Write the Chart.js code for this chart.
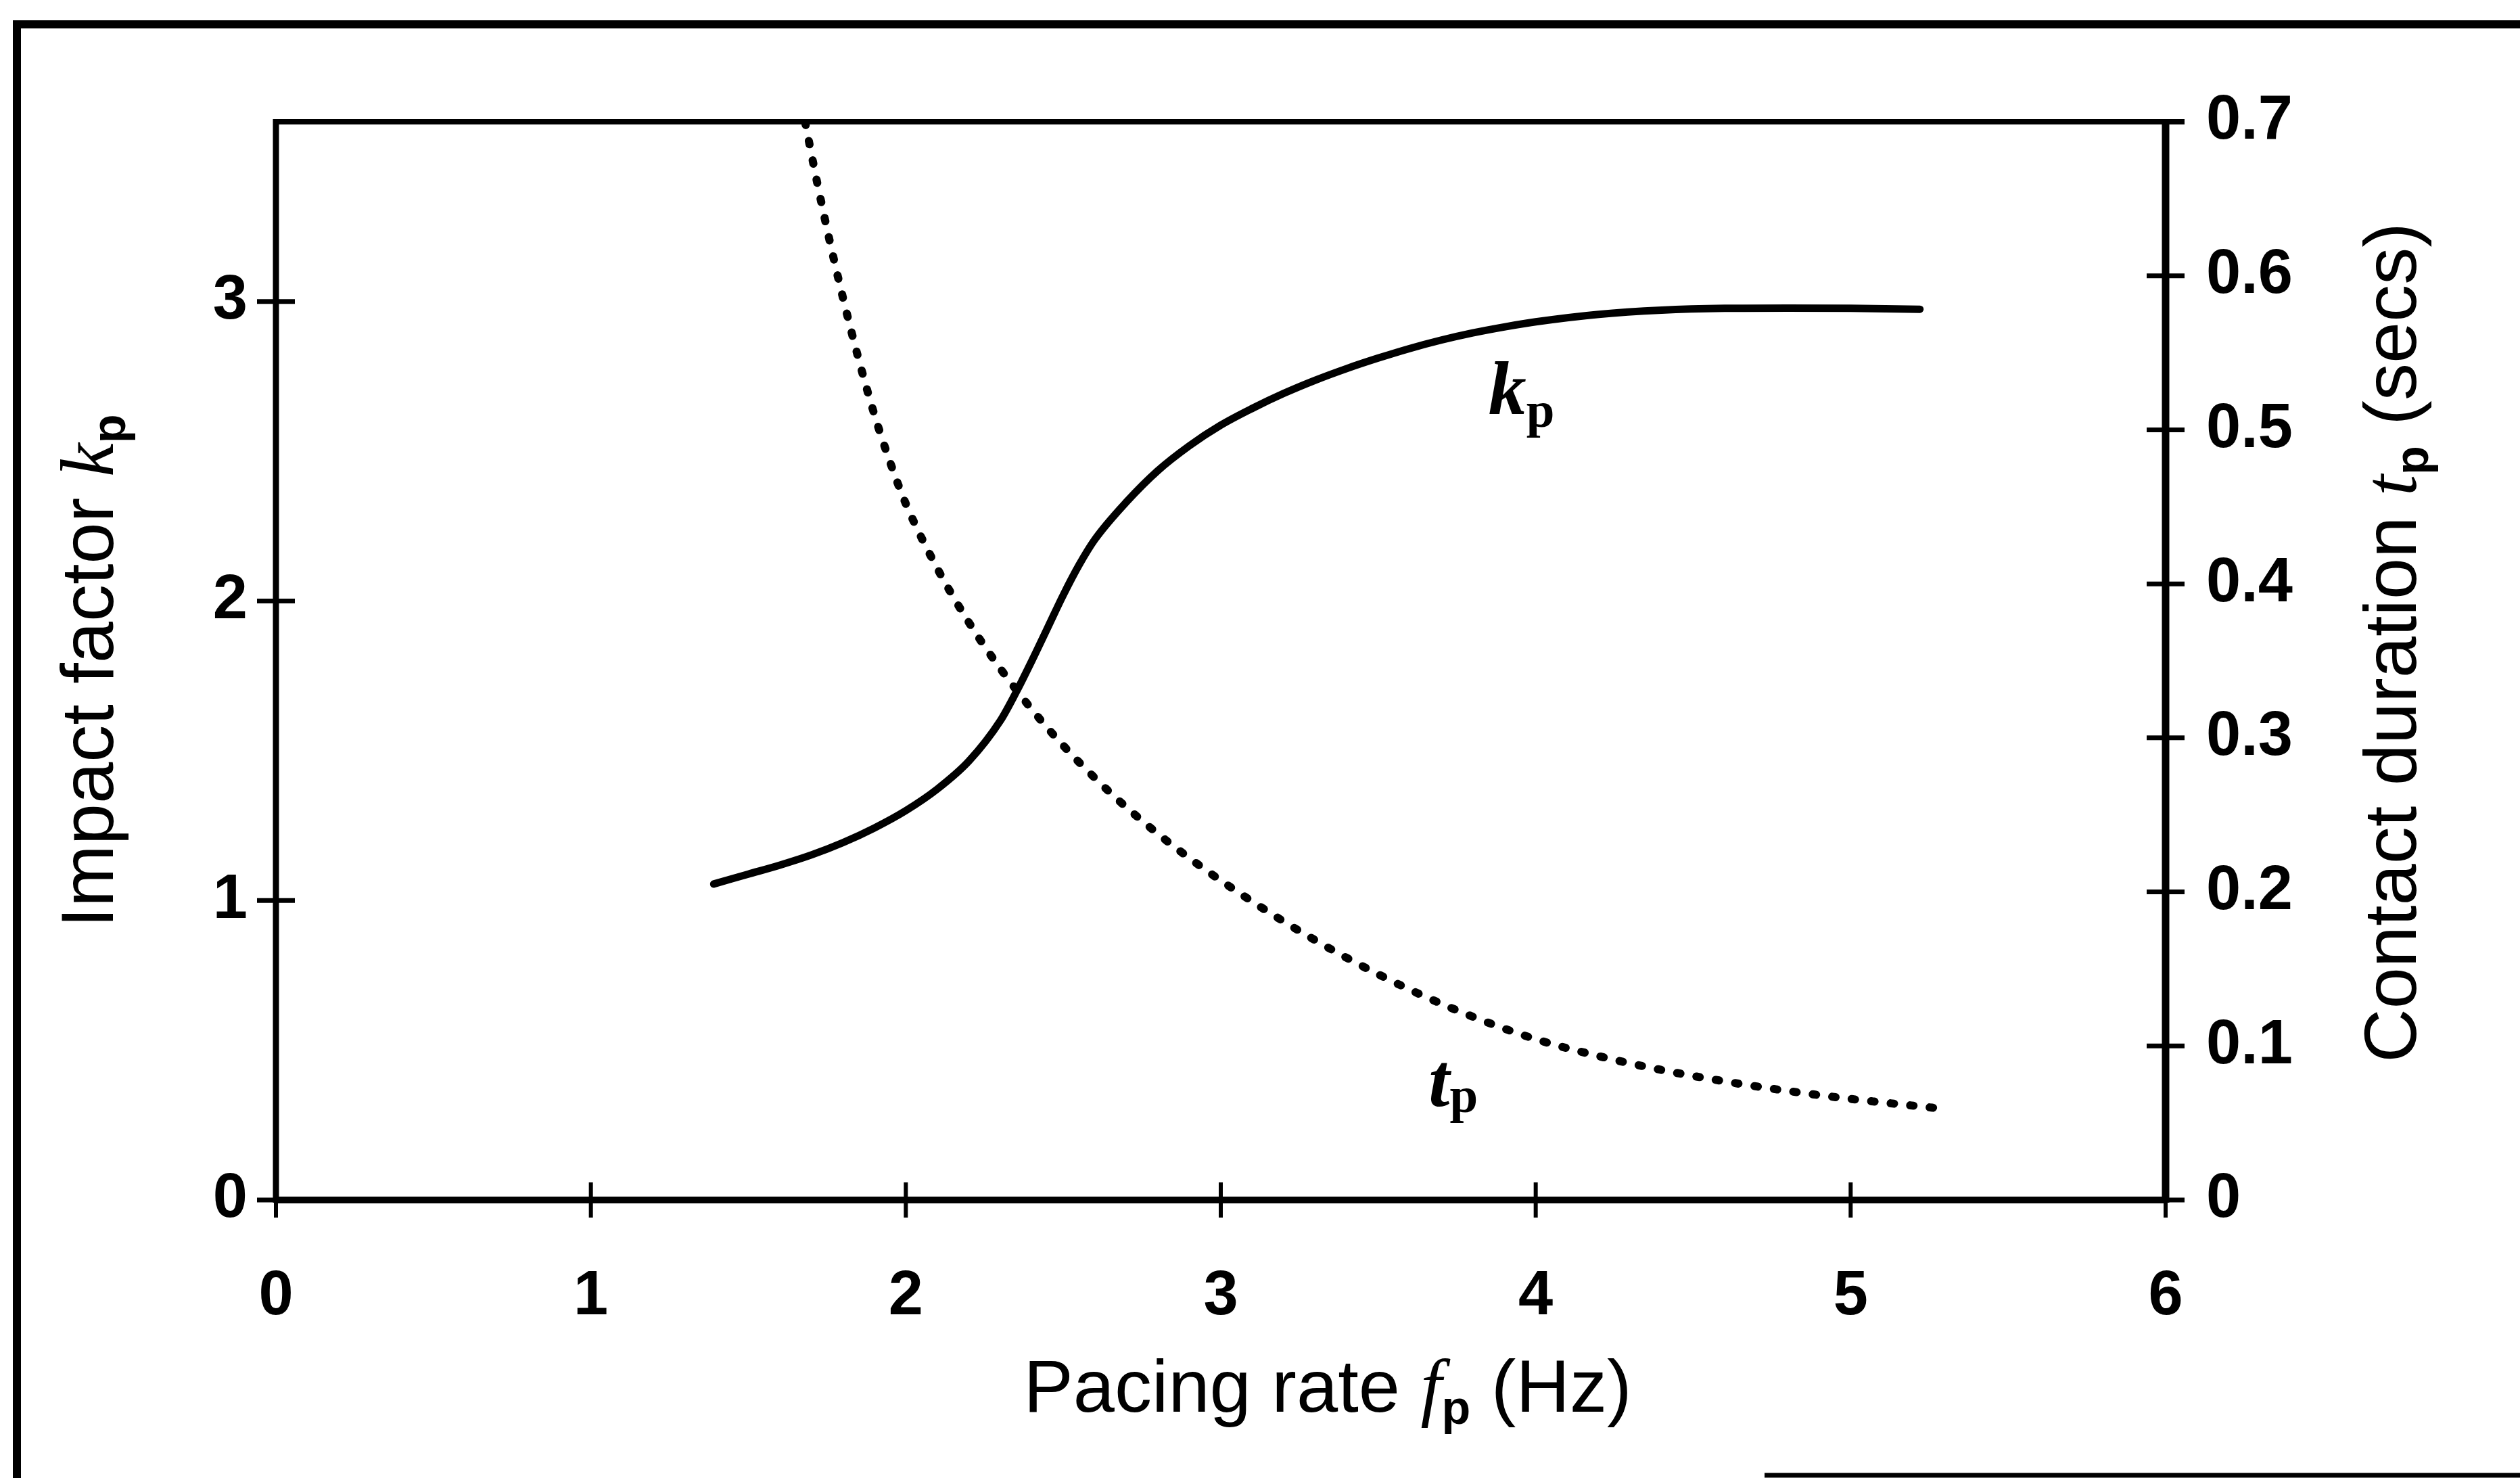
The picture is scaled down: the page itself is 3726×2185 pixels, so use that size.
<!DOCTYPE html>
<html>
<head>
<meta charset="utf-8">
<title>Impact factor and contact duration vs pacing rate</title>
<script src="https://cdn.jsdelivr.net/npm/chart.js@4.4.1/dist/chart.umd.min.js"></script>
<style>
  html, body { margin: 0; padding: 0; background: #fff; }
  #wrap { width: 3726px; height: 2185px; position: relative; }
  canvas { display: block; }
</style>
</head>
<body>
<div id="wrap"><canvas id="chart" width="3726" height="2185"></canvas></div>
<script>
// Impact factor k_p against pacing rate f_p (Hz)
const kpRate  = [1.39, 1.50, 1.60, 1.70, 1.80, 1.90, 2.00, 2.10, 2.20, 2.30, 2.35, 2.40, 2.45, 2.50, 2.55,
                 2.60, 2.70, 2.80, 2.90, 3.00, 3.10, 3.20, 3.30, 3.40, 3.50, 3.60, 3.70, 3.80, 3.90, 4.00,
                 4.20, 4.40, 4.60, 4.80, 5.00, 5.22];
const kpValue = [1.055, 1.088, 1.118, 1.152, 1.193, 1.242, 1.300, 1.372, 1.465, 1.600, 1.695, 1.800, 1.910, 2.020, 2.120,
                 2.205, 2.330, 2.435, 2.518, 2.587, 2.643, 2.693, 2.737, 2.776, 2.811, 2.843, 2.871, 2.895, 2.915, 2.932,
                 2.957, 2.971, 2.977, 2.978, 2.977, 2.974];

// Contact duration t_p (secs) against pacing rate f_p (Hz)
const tpRate  = [1.68, 1.72, 1.76, 1.80, 1.85, 1.90, 1.95, 2.00, 2.10, 2.20, 2.30, 2.40, 2.50, 2.60, 2.70,
                 2.80, 2.90, 3.00, 3.20, 3.40, 3.60, 3.80, 4.00, 4.20, 4.40, 4.60, 4.80, 5.00, 5.27];
const tpValue = [0.700, 0.659, 0.621, 0.586, 0.546, 0.510, 0.479, 0.452, 0.410, 0.375, 0.345, 0.3185, 0.295, 0.274, 0.255,
                 0.2378, 0.222, 0.2074, 0.1808, 0.1572, 0.1366, 0.119, 0.1044, 0.0934, 0.0844, 0.077, 0.0708, 0.0656, 0.0597];

// Axis tick values
const xTicks = [0, 1, 2, 3, 4, 5, 6];
const kTicks = [0, 1, 2, 3];
const tTicks = [0, 0.1, 0.2, 0.3, 0.4, 0.5, 0.6, 0.7];

const SANS  = '"Liberation Sans", Arial, sans-serif';
const SERIF = '"Liberation Serif", "Times New Roman", serif';
const tickFont = { family: SANS, size: 92, weight: 'bold' };

// Draws a run of differently styled text pieces centred on (x, y)
function richText(c, parts, x, y, rot, align) {
  c.save();
  c.translate(x, y);
  if (rot) c.rotate(rot);
  c.textBaseline = 'alphabetic';
  c.textAlign = 'left';
  let w = 0;
  parts.forEach(p => { c.font = p[1]; w += c.measureText(p[0]).width; });
  let cx = align === 'left' ? 0 : -w / 2;
  parts.forEach(p => {
    c.font = p[1];
    c.fillText(p[0], cx, p[2] || 0);
    cx += c.measureText(p[0]).width;
  });
  c.restore();
}

const decor = {
  id: 'decor',
  beforeDraw(chart) {
    const c = chart.ctx;
    c.save();
    c.fillStyle = '#fff';
    c.fillRect(0, 0, chart.width, chart.height);
    c.restore();
  },
  afterDraw(chart) {
    const c = chart.ctx, a = chart.chartArea;
    const sx = chart.scales.x, sk = chart.scales.yK, st = chart.scales.yT;
    c.save();
    c.strokeStyle = '#000';
    c.fillStyle = '#000';
    c.lineCap = 'butt';
    const line = (x1, y1, x2, y2, w) => {
      c.lineWidth = w;
      c.beginPath(); c.moveTo(x1, y1); c.lineTo(x2, y2); c.stroke();
    };

    // plot box
    line(a.left - 4, a.top, a.right + 28, a.top, 8);
    line(a.left, a.top - 4, a.left, a.bottom + 4, 9);
    line(a.right, a.top - 4, a.right, a.bottom + 4, 11);
    line(a.left, a.bottom, a.right, a.bottom, 10);

    // tick marks crossing each axis
    xTicks.forEach(v => { const p = sx.getPixelForValue(v); line(p, a.bottom - 26, p, a.bottom + 26, 6); });
    kTicks.forEach(v => { const p = sk.getPixelForValue(v); line(a.left - 28, p, a.left + 28, p, 7); });
    tTicks.forEach(v => { const p = st.getPixelForValue(v); line(a.right - 28, p, a.right + 28, p, 7); });

    // outer figure frame
    line(19, 36, chart.width, 36, 12);
    line(25, 30, 25, chart.height, 12);
    line(2609, chart.height - 4, chart.width, chart.height - 4, 7);

    // axis titles
    const tf = '110px ' + SANS;
    const sub = 'bold 70px ' + SANS;
    richText(c, [['Pacing rate ', tf], ['f', 'italic 112px ' + SERIF], ['p', sub, 18], [' (Hz)', tf]],
             a.left + 1555, a.bottom + 313, 0);
    richText(c, [['Impact factor ', tf], ['k', 'italic 112px ' + SERIF], ['p', sub, 18]],
             a.left - 241, a.top + 812, -Math.PI / 2);
    richText(c, [['Contact duration ', tf], ['t', 'italic 112px ' + SERIF], ['p', sub, 18], [' (secs)', tf]],
             a.right + 370, a.top + 770, -Math.PI / 2);

    // curve labels
    richText(c, [['k', 'italic bold 112px ' + SERIF], ['p', 'bold 75px ' + SERIF, 19]],
             sx.getPixelForValue(3.85), sk.getPixelForValue(2.624), 0, 'left');
    richText(c, [['t', 'italic bold 112px ' + SERIF], ['p', 'bold 75px ' + SERIF, 9]],
             sx.getPixelForValue(3.66), st.getPixelForValue(0.061), 0, 'left');
    c.restore();
  }
};

new Chart(document.getElementById('chart'), {
  type: 'line',
  data: {
    datasets: [
      {
        label: 'kp',
        data: kpRate.map((x, i) => ({ x, y: kpValue[i] })),
        yAxisID: 'yK',
        borderColor: '#000',
        borderWidth: 11,
        borderCapStyle: 'round',
        borderJoinStyle: 'round',
        pointRadius: 0,
        cubicInterpolationMode: 'monotone',
        fill: false
      },
      {
        label: 'tp',
        data: tpRate.map((x, i) => ({ x, y: tpValue[i] })),
        yAxisID: 'yT',
        borderColor: '#000',
        borderWidth: 12,
        borderDash: [5, 24],
        borderCapStyle: 'round',
        pointRadius: 0,
        cubicInterpolationMode: 'monotone',
        fill: false
      }
    ]
  },
  options: {
    responsive: false,
    devicePixelRatio: 1,
    animation: false,
    layout: { padding: { top: 180, left: 0, right: 0, bottom: 0 } },
    plugins: { legend: { display: false }, tooltip: { enabled: false } },
    scales: {
      x: {
        type: 'linear', position: 'bottom', min: 0, max: 6,
        afterBuildTicks: s => { s.ticks = xTicks.map(v => ({ value: v })); },
        afterFit: s => { s.height = 411; },
        grid: { display: false, drawTicks: false },
        border: { display: false },
        ticks: { color: '#000', font: tickFont, padding: 88, maxRotation: 0, autoSkip: false }
      },
      yK: {
        type: 'linear', position: 'left', min: 0, max: 3.6,
        afterBuildTicks: s => { s.ticks = kTicks.map(v => ({ value: v })); },
        afterFit: s => { s.width = 408; },
        grid: { display: false, drawTicks: false },
        border: { display: false },
        ticks: { color: '#000', font: tickFont, padding: 42, autoSkip: false }
      },
      yT: {
        type: 'linear', position: 'right', min: 0, max: 0.7,
        afterBuildTicks: s => { s.ticks = tTicks.map(v => ({ value: v })); },
        afterFit: s => { s.width = 524; },
        grid: { display: false, drawTicks: false },
        border: { display: false },
        ticks: {
          color: '#000', font: tickFont, padding: 60, autoSkip: false,
          callback: v => (v === 0 ? '0' : Number(v).toFixed(1))
        }
      }
    }
  },
  plugins: [decor]
});
</script>
</body>
</html>
